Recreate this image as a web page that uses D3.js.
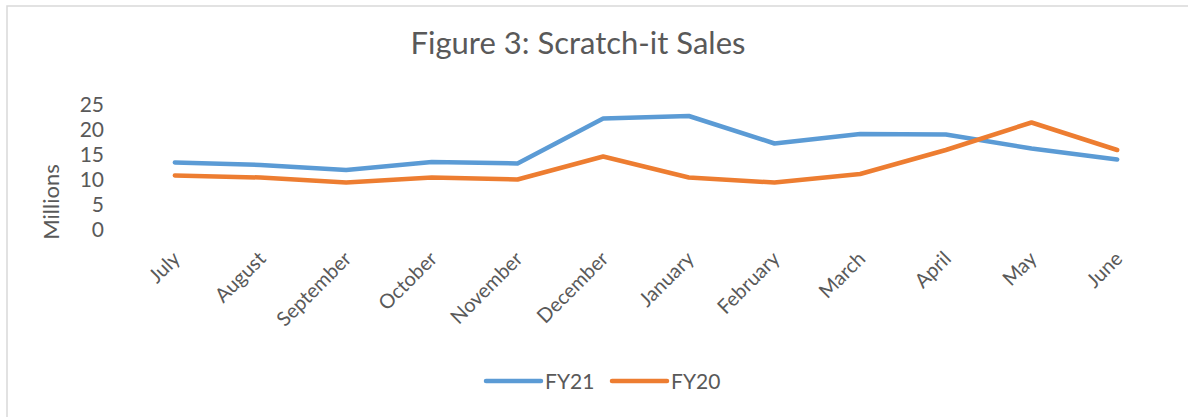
<!DOCTYPE html>
<html><head><meta charset="utf-8">
<script src="https://cdn.jsdelivr.net/npm/d3@7"></script>
<style>html,body{margin:0;padding:0;background:#fff;}svg{display:block;}</style>
</head><body>
<svg id="chart" width="1188" height="417"></svg>
<script>
const months = ["July","August","September","October","November","December","January","February","March","April","May","June"];
const fy21 = [13.5, 13.0, 12.0, 13.6, 13.3, 22.3, 22.8, 17.3, 19.2, 19.1, 16.3, 14.1];
const fy20 = [10.9, 10.5, 9.5, 10.5, 10.1, 14.7, 10.5, 9.5, 11.2, 16.0, 21.5, 16.0];
const yTicks = [0, 5, 10, 15, 20, 25];
const seriesNames = ["FY21", "FY20"];
const seriesColors = ["#5B9BD5", "#ED7D31"];
const title = "Figure 3: Scratch-it Sales";
const yTitle = "Millions";

const svg = d3.select("#chart");
const textColor = "#595959";
const font = "Lato, sans-serif";

svg.append("rect").attr("x",7).attr("y",6).attr("width",1200).attr("height",430)
  .attr("fill","#fff").attr("stroke","#d9d9d9").attr("stroke-width",1.5);

svg.append("text").attr("x",578).attr("y",54).attr("text-anchor","middle")
  .attr("font-family",font).attr("font-size",31)
  .attr("fill",textColor).text(title);

const x = d3.scalePoint().domain(months).range([132,1160]).padding(0.5);
const y = d3.scaleLinear().domain([0,25]).range([230,105]);

const yAxis = svg.append("g").attr("transform","translate(110,0)")
  .call(d3.axisLeft(y).tickValues(yTicks).tickSize(0).tickPadding(6));
yAxis.select(".domain").remove();
yAxis.selectAll("text").attr("font-family",font).attr("font-size",21)
  .attr("fill",textColor);

svg.append("text").attr("transform","translate(59,202) rotate(-90)").attr("text-anchor","middle")
  .attr("font-family",font).attr("font-size",22).attr("fill",textColor).text(yTitle);

const xAxis = svg.append("g").attr("transform","translate(0,240)")
  .call(d3.axisBottom(x).tickSize(0).tickPadding(0));
xAxis.select(".domain").remove();
xAxis.selectAll("text")
  .attr("font-family",font).attr("font-size",20).attr("fill",textColor)
  .attr("text-anchor","end").attr("dy",null).attr("y",0).attr("x",0)
  .attr("transform","translate(6,20) rotate(-45)");

const line = d3.line().x((d,i)=>x(months[i])).y(d=>y(d));
[fy21, fy20].forEach((s,k)=>{
  svg.append("path").datum(s).attr("d",line).attr("fill","none")
    .attr("stroke",seriesColors[k]).attr("stroke-width",4.5)
    .attr("stroke-linecap","round").attr("stroke-linejoin","round");
});

const legendX = [486, 612];
seriesNames.forEach((n,k)=>{
  const g = svg.append("g").attr("transform",`translate(${legendX[k]},381)`);
  g.append("line").attr("x1",0).attr("x2",55).attr("y1",0).attr("y2",0)
    .attr("stroke",seriesColors[k]).attr("stroke-width",4.5).attr("stroke-linecap","round");
  g.append("text").attr("x",59).attr("y",8).attr("font-family",font)
    .attr("font-size",21).attr("fill",textColor).text(n);
});
</script>
</body></html>
